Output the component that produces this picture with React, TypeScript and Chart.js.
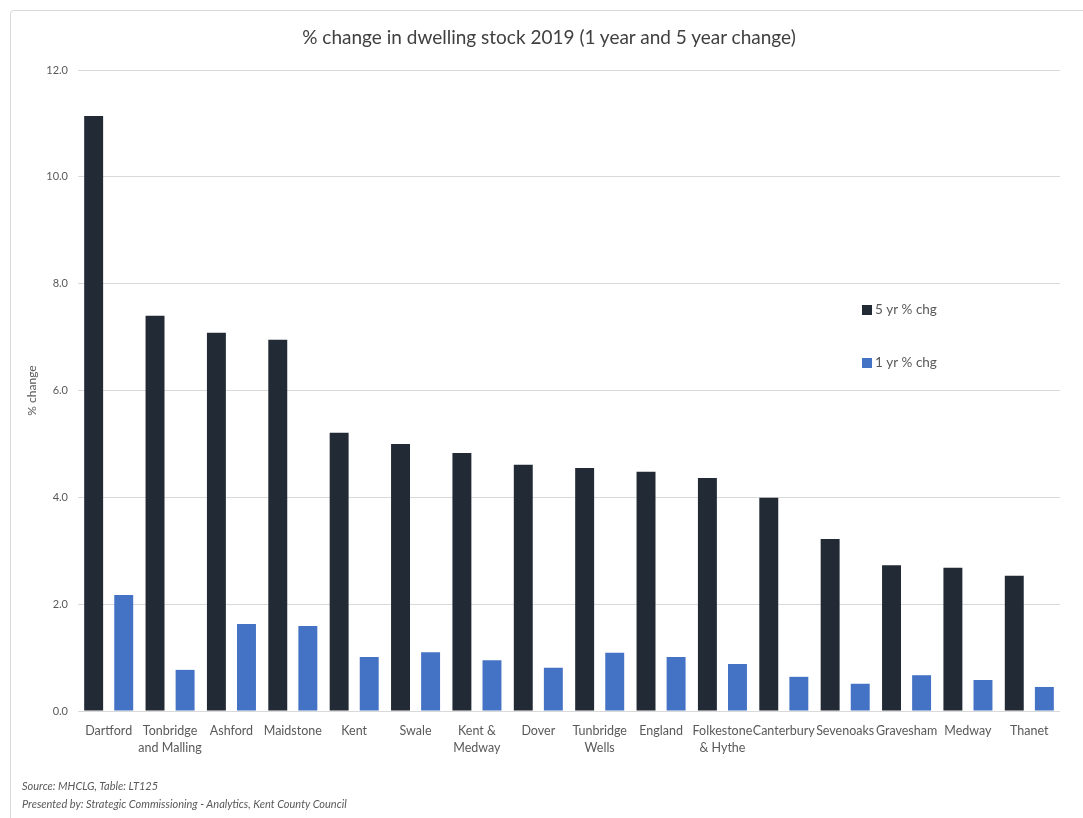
import React, { useEffect, useRef } from "react";
import { Chart, registerables } from "chart.js";

Chart.register(...registerables);

const categories: (string | string[])[] = [
  "Dartford",
  ["Tonbridge", "and Malling"],
  "Ashford",
  "Maidstone",
  "Kent",
  "Swale",
  ["Kent &", "Medway"],
  "Dover",
  ["Tunbridge", "Wells"],
  "England",
  ["Folkestone", "& Hythe"],
  "Canterbury",
  "Sevenoaks",
  "Gravesham",
  "Medway",
  "Thanet",
];

const fiveYear = [11.14, 7.4, 7.08, 6.95, 5.21, 5.0, 4.83, 4.61, 4.55, 4.48, 4.36, 3.99, 3.22, 2.73, 2.68, 2.53];
const oneYear = [2.17, 0.77, 1.63, 1.59, 1.01, 1.1, 0.95, 0.81, 1.09, 1.01, 0.88, 0.64, 0.51, 0.67, 0.58, 0.45];

const seriesLabels = ["5 yr % chg", "1 yr % chg"];
const seriesColors = ["#222a35", "#4472c4"];
const chartTitle = "% change in dwelling stock 2019 (1 year and 5 year change)";

const FONT = "Lato, 'Open Sans', sans-serif";
const TEXT = "#595959";

const legendPlugin = {
  id: "insideLegend",
  afterDraw(chart: any) {
    const ctx = chart.ctx;
    const items = [
      { x: 862, y: 310 },
      { x: 862, y: 363 },
    ];
    ctx.save();
    ctx.font = `13.5px ${FONT}`;
    ctx.textBaseline = "middle";
    ctx.textAlign = "left";
    chart.data.datasets.forEach((ds: any, i: number) => {
      const p = items[i];
      ctx.fillStyle = ds.backgroundColor;
      ctx.fillRect(p.x, p.y - 5, 10, 10);
      ctx.fillStyle = TEXT;
      ctx.fillText(ds.label, p.x + 13, p.y);
    });
    ctx.restore();
  },
};

export default function App() {
  const ref = useRef<HTMLCanvasElement>(null);

  useEffect(() => {
    document.body.style.margin = "0";
    const chart = new Chart(ref.current!, {
      type: "bar",
      data: {
        labels: categories,
        datasets: [
          { label: seriesLabels[0], data: fiveYear, backgroundColor: seriesColors[0], categoryPercentage: 0.98, barPercentage: 0.63 },
          { label: seriesLabels[1], data: oneYear, backgroundColor: seriesColors[1], categoryPercentage: 0.98, barPercentage: 0.63 },
        ],
      },
      options: {
        animation: false,
        responsive: false,
        maintainAspectRatio: false,
        layout: { padding: { left: 10, right: 23, top: 70, bottom: 0 } },
        plugins: {
          legend: { display: false },
          tooltip: { enabled: false },
          title: { display: false },
        },
        scales: {
          x: {
            grid: { display: false },
            border: { display: false },
            ticks: {
              color: TEXT,
              font: { family: FONT, size: 12.5, lineHeight: 1.35 },
              padding: 4,
              maxRotation: 0,
              autoSkip: false,
            },
            afterFit: (s: any) => {
              s.height = 107;
            },
          },
          y: {
            min: 0,
            max: 12,
            border: { display: false },
            grid: { color: "#d9d9d9", drawTicks: false, lineWidth: 1 },
            ticks: {
              stepSize: 2,
              color: TEXT,
              padding: 10,
              font: { family: FONT, size: 11 },
              callback: (v: any) => Number(v).toFixed(1),
            },
            title: {
              display: true,
              text: "% change",
              color: TEXT,
              font: { family: FONT, size: 12 },
              padding: { top: 15, bottom: 0 },
            },
            afterFit: (s: any) => {
              s.width = 68;
            },
          },
        },
      },
      plugins: [legendPlugin],
    });
    return () => chart.destroy();
  }, []);

  return (
    <div style={{ position: "relative", width: 1083, height: 818, background: "#fff", overflow: "hidden" }}>
      <div
        style={{
          position: "absolute",
          left: 10,
          top: 10,
          width: 1200,
          height: 900,
          borderTop: "1px solid #d9d9d9",
          borderLeft: "1px solid #d9d9d9",
          borderTopLeftRadius: 4,
        }}
      />
      <canvas ref={ref} width={1083} height={818} style={{ position: "absolute", left: 0, top: 0 }} />
      <div
        style={{
          position: "absolute",
          left: 0,
          width: 1098,
          top: 25,
          textAlign: "center",
          fontFamily: FONT,
          fontSize: 19,
          lineHeight: "24px",
          color: "#404040",
        }}
      >
        {chartTitle}
      </div>
      <div
        style={{
          position: "absolute",
          left: 22,
          top: 777,
          fontFamily: FONT,
          fontStyle: "italic",
          fontSize: 11,
          lineHeight: "18px",
          color: TEXT,
        }}
      >
        <div>Source: MHCLG, Table: LT125</div>
        <div>Presented by: Strategic Commissioning - Analytics, Kent County Council</div>
      </div>
    </div>
  );
}
